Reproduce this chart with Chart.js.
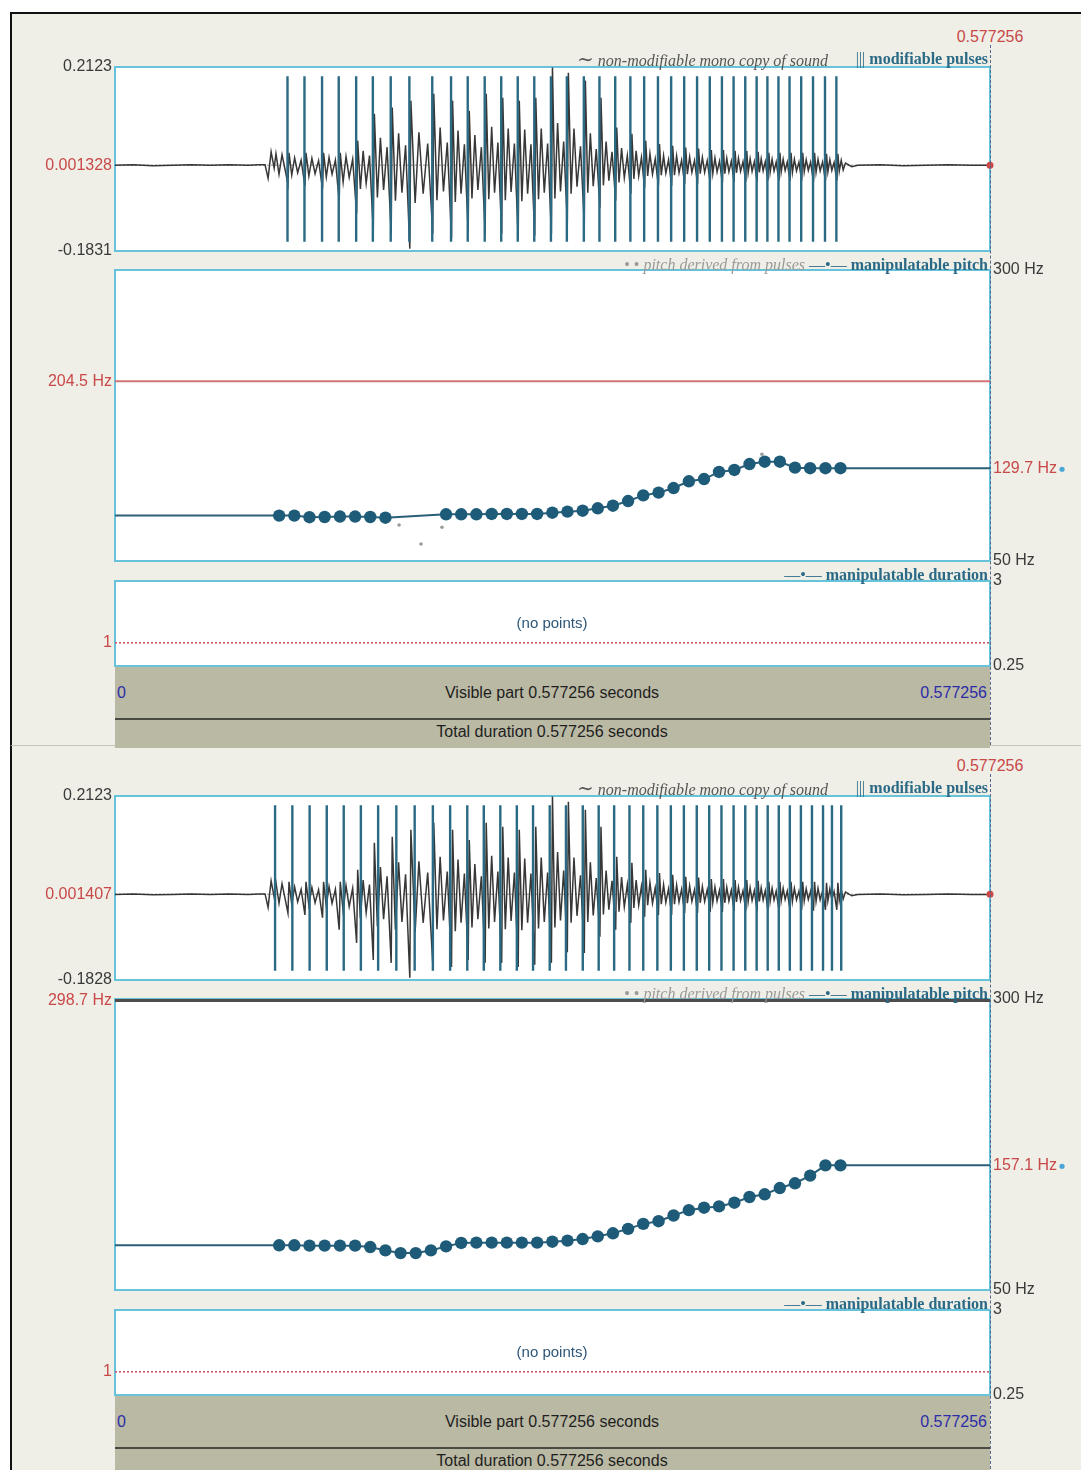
<!DOCTYPE html>
<html lang="en">
<head>
<meta charset="utf-8">
<title>Manipulation: pitch contour</title>
<script src="https://cdn.jsdelivr.net/npm/chart.js@4.4.1/dist/chart.umd.min.js"></script>
<style>
  html, body { margin:0; padding:0; background:#fff; }
  #page { position:relative; width:1081px; height:1470px; overflow:hidden; background:#fff;
          font-family:"Liberation Sans", Arial, sans-serif; }
  .win { position:absolute; left:10px; width:1071px; background:#efefe7; box-sizing:border-box; border-left:2px solid #111; }
  canvas { position:absolute; left:0; z-index:2; }
  .lbl { position:absolute; white-space:nowrap; line-height:18px; height:18px; z-index:3; }
  .legend { font-family:"Liberation Serif", "DejaVu Serif", serif; font-size:16px; }
  .it { font-style:italic; }
  .teal { color:#2b6a86; font-weight:bold; }
  .bar { position:absolute; left:115px; width:875px; background:#bab9a4; z-index:1; box-sizing:border-box; }
  .cursor { position:absolute; left:990px; width:0; border-left:1px dashed #56688a; z-index:4; }
</style>
</head>
<body>
<div id="page"></div>
<script>
// ---- recording ----
const DURATION = 0.577256; // seconds

// mono copy of the sound: vertex times (ms) and amplitudes (thousandths)
const waveT = [
  0, 12, 25, 38, 50, 63, 75, 88, 95, 99,
  101, 103, 105, 106.2, 108.2, 110.2, 112.2,
  114.1, 114.8, 116.6, 118.5, 120.5, 122.8,
  125.3, 126.0, 127.9, 129.9, 132.0, 134.3,
  136.9, 137.6, 139.4, 141.2, 143.2, 145.4,
  147.9, 148.6, 150.5, 152.4, 154.5, 156.8,
  159.4, 160.1, 161.9, 163.7, 165.7, 167.9,
  170.4, 171.1, 173.1, 175.1, 177.2, 179.5,
  182.2, 182.9, 185.0, 187.1, 189.3, 191.7,
  194.5, 195.2, 198.0, 200.5, 203.3, 206.3,
  209.6, 210.3, 212.4, 214.5, 216.7, 219.2,
  222.0, 222.7, 224.5, 226.3, 228.3, 230.5,
  233.0, 233.7, 235.5, 237.4, 239.4, 241.7,
  244.2, 244.9, 246.6, 248.5, 250.4, 252.6,
  255.1, 255.8, 257.5, 259.4, 261.3, 263.5,
  266.0, 266.7, 268.4, 270.3, 272.2, 274.4,
  276.9, 277.6, 279.4, 281.2, 283.2, 285.4,
  287.9, 288.6, 290.2, 292.0, 293.9, 296.0,
  298.4, 299.1, 300.9, 302.8, 304.8, 307.1,
  309.6, 310.3, 311.9, 313.6, 315.5, 317.5,
  319.9, 320.6, 322.2, 324.0, 325.8, 327.9,
  330.3, 331.0, 332.5, 334.2, 336.0, 338.0,
  340.3, 341.0, 342.3, 343.8, 345.5, 347.3,
  349.4, 350.1, 351.4, 352.9, 354.6, 356.4,
  358.5, 359.2, 360.4, 361.9, 363.4, 365.2,
  367.2, 367.9, 369.1, 370.5, 372.1, 373.8,
  375.8, 376.5, 377.6, 379.1, 380.6, 382.3,
  384.3, 385.0, 386.1, 387.5, 389.0, 390.7,
  392.7, 393.4, 394.4, 395.8, 397.2, 398.8,
  400.7, 401.4, 402.3, 403.6, 405.0, 406.6,
  408.4, 409.1, 410.0, 411.3, 412.7, 414.3,
  416.1, 416.8, 417.7, 419.0, 420.3, 421.8,
  423.6, 424.3, 425.1, 426.3, 427.6, 429.0,
  430.7, 431.4, 432.2, 433.5, 434.8, 436.2,
  438.0, 438.7, 439.5, 440.8, 442.1, 443.5,
  445.3, 446.0, 446.9, 448.2, 449.6, 451.2,
  453.0, 453.7, 454.7, 456.0, 457.4, 458.9,
  460.8, 461.5, 462.5, 463.8, 465.2, 466.8,
  468.7, 469.4, 470.3, 471.6, 472.9, 474.4,
  476.2, 476.9, 477.8, 479.1, 480.4, 481.9,
  483.5, 486, 490, 505, 520, 535, 550, 565, 577.256
];
const waveA = [
  1, 2, 0, 1, 2, 1, 2, 1, 2, 2,
  -27, 30, -5, 26, -18, 24, -8,
  -39, 28, -20, 17, -15, 12,
  -43, 28, -22, 16, -17, 11,
  -49, 28, -24, 18, -18, 12,
  -75, 28, -35, 20, -25, 14,
  -103, 54, -50, 32, -38, 22,
  -140, 112, -68, 60, -52, 40,
  -146, 125, -75, 70, -58, 44,
  -178, 140, -80, 72, -60, 48,
  -146, 155, -74, 82, -55, 50,
  -155, 140, -78, 76, -60, 46,
  -140, 118, -70, 66, -52, 40,
  -146, 155, -72, 84, -58, 50,
  -146, 146, -74, 80, -56, 48,
  -155, 140, -76, 78, -60, 46,
  -150, 146, -72, 80, -58, 48,
  -146, 211, -70, 92, -55, 52,
  -123, 200, -60, 80, -45, 42,
  -125, 183, -58, 70, -44, 36,
  -90, 146, -42, 52, -32, 30,
  -75, 82, -36, 38, -26, 22,
  -60, 69, -28, 32, -22, 18,
  -47, 54, -22, 26, -18, 15,
  -43, 47, -20, 22, -16, 13,
  -43, 43, -20, 21, -15, 12,
  -39, 39, -18, 19, -14, 11,
  -39, 37, -17, 18, -14, 11,
  -37, 34, -16, 17, -13, 10,
  -37, 34, -17, 16, -13, 10,
  -34, 32, -15, 16, -12, 9,
  -34, 32, -15, 15, -12, 9,
  -34, 30, -14, 15, -11, 9,
  -32, 28, -14, 14, -11, 8,
  -32, 28, -13, 14, -10, 8,
  -32, 28, -14, 14, -11, 8,
  -32, 28, -13, 13, -10, 8,
  -34, 28, -14, 14, -11, 8,
  -32, 26, -13, 13, -10, 7,
  -32, 26, -12, 12, -9, 6,
  3, -2, 1, 2, 0, 1, 2, 1, 1
];

// modifiable pulses (ms)
const pulsesTop = [113.8, 125.0, 136.6, 147.6, 159.1, 170.1, 181.9, 194.2, 209.3, 221.7, 232.7, 243.9,
  254.8, 265.7, 276.6, 287.6, 298.1, 309.3, 319.6, 330.0, 340.0, 349.1, 358.2, 366.9, 375.5, 384.0,
  392.4, 400.4, 408.1, 415.8, 423.3, 430.4, 437.7, 445.0, 452.7, 460.5, 468.4, 475.9];
const pulsesBottom = [105.6, 117.0, 128.4, 139.7, 150.9, 162.2, 173.6, 185.6, 197.7, 209.7, 221.1, 232.4,
  243.3, 254.2, 265.1, 275.8, 286.8, 297.5, 308.6, 319.1, 329.3, 339.4, 348.5, 357.8, 366.7, 375.3,
  383.8, 392.0, 400.1, 408.1, 415.8, 423.3, 430.6, 437.9, 445.2, 452.5, 459.8, 467.1, 473.0, 479.1];

// manipulatable pitch points (s, Hz)
const pitchTimesTop = [0.1083, 0.1183, 0.1283, 0.1383, 0.1484, 0.1584, 0.1684, 0.1784,
  0.2184, 0.2284, 0.2384, 0.2485, 0.2585, 0.2684, 0.2785, 0.2885, 0.2985, 0.3085, 0.3185, 0.3285,
  0.3385, 0.3485, 0.3586, 0.3685, 0.3786, 0.3886, 0.3985, 0.4086, 0.4186, 0.4286, 0.4386, 0.4486,
  0.4586, 0.4687, 0.4786];
const pitchTop = [89.0, 89.0, 87.6, 87.8, 88.2, 88.2, 87.8, 87.2,
  90.1, 90.1, 90.1, 90.4, 90.4, 90.4, 90.4, 91.5, 92.4, 93.2, 95.3, 97.5,
  101.5, 106.4, 108.7, 112.7, 118.5, 120.4, 126.5, 128.2, 133.3, 135.3, 135.3, 130.2,
  129.7, 129.7, 129.7];
// pitch derived from pulses, where it differs from the manipulated contour
const derivedTimesTop = [0.1874, 0.2019, 0.2157, 0.4268];
const derivedTop = [80.9, 64.6, 79.0, 141.7];

const pitchTimesBottom = [0.1083, 0.1183, 0.1283, 0.1383, 0.1484, 0.1584, 0.1684, 0.1784,
  0.1884, 0.1984, 0.2084, 0.2184, 0.2284, 0.2384, 0.2485, 0.2585, 0.2684, 0.2785, 0.2885, 0.2985,
  0.3085, 0.3185, 0.3285, 0.3385, 0.3485, 0.3586, 0.3685, 0.3786, 0.3886, 0.3985, 0.4086, 0.4186,
  0.4286, 0.4386, 0.4486, 0.4586, 0.4687, 0.4786];
const pitchBottom = [88.4, 88.4, 88.1, 88.1, 88.1, 88.1, 86.9, 84.0, 81.7, 81.7,
  84.0, 87.5, 90.4, 90.7, 90.7, 90.7, 90.7, 90.7, 91.5, 92.4,
  93.8, 96.1, 98.7, 102.5, 106.8, 109.1, 114.0, 118.6, 120.7, 121.8,
  125.0, 129.9, 132.2, 137.6, 141.7, 148.3, 157.1, 157.1];

// axis ranges and cursor values
const waveRangeTop = [-0.1831, 0.2123];
const waveCenterTop = 0.001328;
const waveRangeBottom = [-0.1828, 0.2123];
const waveCenterBottom = 0.001407;
const pitchRange = [50, 300];
const pitchCursorTop = 204.5;
const pitchCursorBottom = 298.7;
const durationRange = [0.25, 3];
const durationCursor = 1;

// ---- styling ----
const RED = '#c94848', INK = '#3a3a3a', FRAME = '#66c3da';
const PULSE = '#2b6a84', PITCH_LINE = '#2a5f78', PITCH_DOT = '#1e5b79';
const FONT = { family: '"Liberation Sans", Arial, sans-serif', size: 16, lineHeight: 1.2 };
const LEFT_W = 115, RIGHT_X = 990, PAGE_W = 1081, PAD = 14;
const page = document.getElementById('page');

const framePlugin = {
  id: 'frame',
  beforeDraw(chart) {
    const a = chart.chartArea, ctx = chart.ctx;
    ctx.save(); ctx.fillStyle = '#fff';
    ctx.fillRect(a.left, a.top, a.right - a.left, a.bottom - a.top); ctx.restore();
  },
  beforeDatasetsDraw(chart) {
    const a = chart.chartArea, ctx = chart.ctx;
    ctx.save(); ctx.strokeStyle = FRAME; ctx.lineWidth = 2;
    ctx.strokeRect(a.left, a.top, a.right - a.left, a.bottom - a.top); ctx.restore();
  }
};
// small blue marker after the right-hand end value label
const endDot = {
  id: 'endDot',
  afterDraw(chart, args, opts) {
    if (opts.value == null) return;
    const ctx = chart.ctx, y = chart.scales.y2.getPixelForValue(opts.value);
    ctx.save();
    ctx.font = '16px "Liberation Sans", Arial, sans-serif';
    const w = ctx.measureText(opts.value + ' Hz').width;
    ctx.fillStyle = '#4aa6d6';
    ctx.beginPath(); ctx.arc(chart.chartArea.right + 3 + w + 5, y + 1, 2.6, 0, Math.PI * 2); ctx.fill();
    ctx.restore();
  }
};

function axis(position, range, values, redValue, fmt, width) {
  return {
    position, min: range[0], max: range[1],
    grid: { display: false, drawTicks: false }, border: { display: false },
    afterFit: s => { s.width = width; },
    afterBuildTicks: s => { s.ticks = values.map(v => ({ value: v })); },
    ticks: {
      autoSkip: false, padding: 3, font: FONT,
      color: c => (c.tick && c.tick.value === redValue) ? RED : INK,
      callback: v => fmt(v)
    }
  };
}

function makeChart(top, bottom, datasets, yLeft, yRight, endValue) {
  const c = document.createElement('canvas');
  c.width = PAGE_W; c.height = bottom - top + 2 * PAD;
  c.style.top = (top - PAD) + 'px';
  page.appendChild(c);
  const scales = { x: { type: 'linear', min: 0, max: DURATION, display: false }, y: yLeft };
  const padding = { top: PAD, bottom: PAD, left: 0, right: 0 };
  if (yRight) scales.y2 = yRight; else padding.right = PAGE_W - RIGHT_X;
  return new Chart(c, {
    type: 'line',
    data: { datasets },
    options: {
      responsive: false, animation: false, devicePixelRatio: 1,
      layout: { padding },
      elements: { line: { tension: 0 } },
      plugins: { legend: { display: false }, tooltip: { enabled: false }, endDot: { value: endValue } },
      scales
    },
    plugins: [framePlugin, endDot]
  });
}

const hz = v => v + ' Hz';
const plain = v => String(v);

function waveChart(off, pulses, range, center) {
  const span = range[1] - range[0];
  const lo = range[0] + 0.05 * span, hi = range[1] - 0.05 * span;
  const segs = pulses.flatMap(t => [{ x: t / 1000, y: lo }, { x: t / 1000, y: hi }, { x: t / 1000, y: null }]);
  const wave = waveT.map((t, i) => ({ x: t / 1000, y: waveA[i] / 1000 }));
  makeChart(67 + off, 251 + off, [
    { data: [{ x: DURATION, y: center }], showLine: false, pointRadius: 3.5, pointBackgroundColor: RED, pointBorderWidth: 0, clip: false, order: 0 },
    { data: segs, borderColor: PULSE, borderWidth: 2.4, pointRadius: 0, spanGaps: false, order: 1 },
    { data: wave, borderColor: 'rgba(38,38,38,0.92)', borderWidth: 1.5, pointRadius: 0, order: 2 },
    { data: [{ x: 0, y: center }, { x: DURATION, y: center }], borderColor: '#8c8c8c', borderWidth: 1, borderDash: [2, 2], pointRadius: 0, order: 3 }
  ],
  axis('left', range, [range[1], center, range[0]], center, plain, LEFT_W), null);
}

function pitchChart(off, times, values, dTimes, dValues, cursor, cursorColor, cursorWidth) {
  const last = values[values.length - 1];
  const pts = times.map((t, i) => ({ x: t, y: values[i] }));
  const derived = dTimes.map((t, i) => ({ x: t, y: dValues[i] }));
  makeChart(270 + off, 561 + off, [
    { data: pts, borderColor: PITCH_LINE, borderWidth: 2, pointRadius: 6.2, pointBackgroundColor: PITCH_DOT, pointBorderColor: PITCH_DOT, pointBorderWidth: 0, order: 0 },
    { data: derived, showLine: false, pointRadius: 1.8, pointBackgroundColor: '#9a9a9a', pointBorderWidth: 0, order: 1 },
    { data: [{ x: 0, y: values[0] }, { x: times[0], y: values[0] }], borderColor: PITCH_LINE, borderWidth: 2, pointRadius: 0, order: 2 },
    { data: [{ x: times[times.length - 1], y: last }, { x: DURATION, y: last }], borderColor: PITCH_LINE, borderWidth: 2, pointRadius: 0, order: 2 },
    { data: [{ x: 0, y: cursor }, { x: DURATION, y: cursor }], borderColor: cursorColor, borderWidth: cursorWidth, pointRadius: 0, clip: false, order: 3 }
  ],
  axis('left', pitchRange, [cursor], cursor, hz, LEFT_W),
  axis('right', pitchRange, [pitchRange[1], last, pitchRange[0]], last, hz, PAGE_W - RIGHT_X),
  last);
}

function durationChart(off) {
  makeChart(581 + off, 666 + off, [
    { data: [{ x: 0, y: durationCursor }, { x: DURATION, y: durationCursor }], borderColor: '#c8505c', borderWidth: 1.5, borderDash: [2, 2], pointRadius: 0 }
  ],
  axis('left', durationRange, [durationCursor], durationCursor, plain, LEFT_W),
  axis('right', durationRange, [durationRange[1], durationRange[0]], null, plain, PAGE_W - RIGHT_X), null);
}

function decor(off, winTop, winH, topBorder) {
  const w = document.createElement('div');
  w.className = 'win';
  w.style.top = winTop + 'px'; w.style.height = winH + 'px'; w.style.borderTop = topBorder;
  page.appendChild(w);
  const t = DURATION;
  page.insertAdjacentHTML('beforeend', `
    <div class="lbl" style="left:930px;width:120px;text-align:center;top:${28 + off}px;color:${RED};font-size:16px">${t}</div>
    <div class="lbl legend" style="right:253px;top:${50 + off}px;color:#555"><span style="font-size:20px">&#8764;</span> <span class="it">non-modifiable mono copy of sound</span></div>
    <div class="lbl legend teal" style="right:93px;top:${50 + off}px"><span style="font-weight:normal">|||</span> modifiable pulses</div>
    <div class="lbl legend" style="right:276px;top:${256 + off}px;color:#9a9a9a">&bull; &bull; <span class="it">pitch derived from pulses</span></div>
    <div class="lbl legend teal" style="right:93px;top:${256 + off}px"><span style="font-weight:normal">&mdash;&bull;&mdash;</span> manipulatable pitch</div>
    <div class="lbl legend teal" style="right:93px;top:${566 + off}px"><span style="font-weight:normal">&mdash;&bull;&mdash;</span> manipulatable duration</div>
    <div class="lbl" style="left:452px;width:200px;text-align:center;top:${614 + off}px;color:#2d5677;font-size:15px">(no points)</div>
    <div class="bar" style="top:${666 + off}px;height:52px"></div>
    <div class="bar" style="top:${718 + off}px;height:30px;border-top:2px solid #4a4a44"></div>
    <div class="lbl" style="left:117px;top:${684 + off}px;color:#2c2ca8;font-size:16px">0</div>
    <div class="lbl" style="right:94px;top:${684 + off}px;color:#2c2ca8;font-size:16px">${t}</div>
    <div class="lbl" style="left:352px;width:400px;text-align:center;top:${684 + off}px;color:#1e1e1e;font-size:16px">Visible part ${t} seconds</div>
    <div class="lbl" style="left:352px;width:400px;text-align:center;top:${723 + off}px;color:#1e1e1e;font-size:16px">Total duration ${t} seconds</div>
    <div class="cursor" style="top:${45 + off}px;height:700px"></div>
  `);
}

// upper window: original contour
decor(0, 12, 733, '2px solid #111');
waveChart(0, pulsesTop, waveRangeTop, waveCenterTop);
pitchChart(0, pitchTimesTop, pitchTop, derivedTimesTop, derivedTop, pitchCursorTop, '#d27474', 2);
durationChart(0);

// lower window: raised final contour
decor(729, 745, 725, '1px solid #c4c4bc');
waveChart(729, pulsesBottom, waveRangeBottom, waveCenterBottom);
pitchChart(729, pitchTimesBottom, pitchBottom, [], [], pitchCursorBottom, '#4d4d4d', 3);
durationChart(729);
</script>
</body>
</html>
